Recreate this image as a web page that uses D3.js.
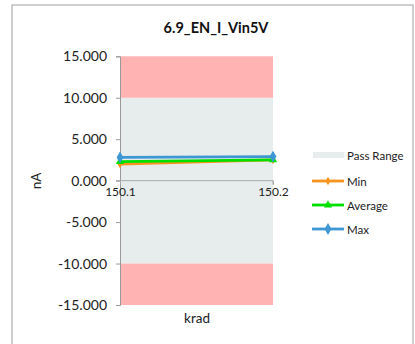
<!DOCTYPE html>
<html><head><meta charset="utf-8">
<script src="https://cdn.jsdelivr.net/npm/d3@7"></script>
<style>body{margin:0;background:#fff}svg{display:block;font-family:Lato,"Open Sans",sans-serif}</style>
</head><body>
<script>
const title = "6.9_EN_I_Vin5V";
const categories = ["150.1", "150.2"];
const minVals = [2.0, 2.5];
const avgVals = [2.3, 2.5];
const maxVals = [2.8, 2.9];
const yTicks = [-15, -10, -5, 0, 5, 10, 15];
const passRange = [-10, 10];
const failRanges = [[10, 15], [-15, -10]];
const seriesNames = ["Min", "Average", "Max"];
const seriesColors = ["#F7931E", "#00E000", "#3D97D3"];

const W = 415, H = 344;
const svg = d3.select("body").append("svg").attr("width", W).attr("height", H);
svg.append("rect").attr("x", 12).attr("y", 5).attr("width", 401).attr("height", 345)
  .attr("fill", "#fff").attr("stroke", "#b0b0b0").attr("stroke-width", 1.2);

const x = d3.scalePoint().domain(categories).range([120, 273]);
const y = d3.scaleLinear().domain([-15, 15]).range([305, 56.3]);

svg.append("rect").attr("x", 120).attr("width", 153)
  .attr("y", y(passRange[1])).attr("height", y(passRange[0]) - y(passRange[1])).attr("fill", "#E7ECEC");
failRanges.forEach(r => svg.append("rect").attr("x", 120).attr("width", 153)
  .attr("y", y(r[1])).attr("height", y(r[0]) - y(r[1])).attr("fill", "#FFB3B3"));

const fmt = d => d.toFixed(3);
const ya = svg.append("g").attr("transform", "translate(120,0)")
  .call(d3.axisLeft(y).tickValues(yTicks).tickFormat(fmt).tickSize(4).tickPadding(9));
ya.select(".domain").attr("stroke", "#999");
ya.selectAll(".tick line").attr("stroke", "#999");
ya.selectAll("text").attr("font-size", 14).attr("fill", "#222").attr("font-family", "Lato, sans-serif");

const xa = svg.append("g").attr("transform", `translate(0,${y(0)})`)
  .call(d3.axisBottom(x).tickSize(4).tickPadding(3));
xa.select(".domain").attr("stroke", "#aaa").attr("d", `M116,0H273V4`);
xa.selectAll(".tick line").attr("stroke", "#aaa");
xa.selectAll("text").attr("font-size", 12).attr("fill", "#222").attr("font-family", "Lato, sans-serif");

svg.append("text").attr("x", 216).attr("y", 33).attr("text-anchor", "middle")
  .attr("font-weight", "bold").attr("font-size", 14.5).attr("fill", "#111").text(title);
svg.append("text").attr("x", 36).attr("y", 186).attr("text-anchor", "middle")
  .attr("transform", "rotate(-90,36,181)").attr("font-size", 13.5).attr("fill", "#222").text("nA");
svg.append("text").attr("x", 197).attr("y", 323).attr("text-anchor", "middle")
  .attr("font-size", 13.5).attr("fill", "#222").text("krad");

const data = [minVals, avgVals, maxVals];
const line = d3.line().x((d, i) => x(categories[i])).y(d => y(d));
const sym = [d3.symbolDiamond, d3.symbolTriangle, d3.symbolDiamond];
const symSize = [22, 30, 40];
data.forEach((vals, k) => {
  svg.append("path").datum(vals).attr("d", line).attr("fill", "none")
    .attr("stroke", seriesColors[k]).attr("stroke-width", 2.8);
  vals.forEach((v, i) => svg.append("path").attr("d", d3.symbol(sym[k], symSize[k])())
    .attr("transform", `translate(${x(categories[i])},${y(v)})`).attr("fill", seriesColors[k]));
});

const lg = svg.append("g");
lg.append("rect").attr("x", 313).attr("y", 152).attr("width", 31).attr("height", 6).attr("fill", "#E7ECEC");
lg.append("text").attr("x", 347).attr("y", 160).attr("font-size", 11.5).attr("fill", "#222").text("Pass Range");
const ly = [181, 205, 229];
seriesNames.forEach((n, k) => {
  lg.append("line").attr("x1", 312).attr("x2", 344).attr("y1", ly[k]).attr("y2", ly[k])
    .attr("stroke", seriesColors[k]).attr("stroke-width", 2.8);
  lg.append("path").attr("d", d3.symbol(sym[k], symSize[k])()).attr("transform", `translate(328,${ly[k]})`)
    .attr("fill", seriesColors[k]);
  lg.append("text").attr("x", 347).attr("y", ly[k] + 4.5).attr("font-size", 11.5).attr("fill", "#222").text(n);
});
</script>
</body></html>
